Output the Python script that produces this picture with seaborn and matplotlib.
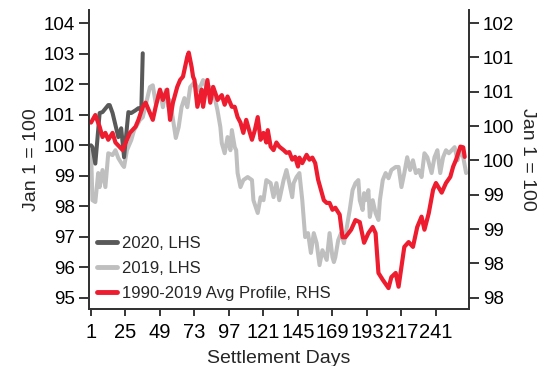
import numpy as np
import pandas as pd
import seaborn as sns
import matplotlib
matplotlib.use("Agg")
import matplotlib.pyplot as plt
from matplotlib.lines import Line2D

# 2020 (left axis)
days_2020 = [1, 2, 4, 7, 9, 13, 14, 16, 20, 22, 24, 27, 29, 32, 34, 36, 37]
vals_2020 = [100.0, 99.94, 99.4, 101.06, 101.09, 101.32, 101.32, 101.06, 100.27, 100.56,
             99.61, 101.09, 101.06, 101.15, 101.22, 101.15, 103.02]

# 2019 (left axis)
days_2019 = [1, 2, 4, 6, 7, 9, 11, 13, 16, 18, 20, 23, 24, 26, 29, 31, 33, 35, 37, 39,
             42, 44, 46, 49, 51, 53, 55, 56, 60, 62, 64, 66, 68, 70, 73, 76, 79, 82, 84, 85,
             87, 89, 91, 92, 94, 96, 98, 99, 101, 102, 103, 105, 107, 110, 113, 114, 117, 119, 121, 123,
             126, 128, 130, 132, 135, 137, 139, 141, 142, 144, 146, 148, 150, 152, 154, 156, 158, 160, 162, 165,
             167, 169, 170, 171, 173, 175, 177, 179, 181, 183, 185, 187, 188, 190, 191, 192, 194, 195, 197, 199,
             201, 202, 204, 206, 208, 210, 213, 215, 217, 219, 221, 223, 225, 227, 229, 231, 233, 235, 238, 240,
             242, 244, 246, 248, 250, 252, 254, 256, 258, 260, 262]
vals_2019 = [99.84, 98.20, 98.14, 99.09, 98.63, 99.19, 98.63, 99.74, 99.68, 99.84, 99.58, 99.35, 99.29, 99.84, 100.17, 100.50, 100.66, 100.83, 100.92, 101.32,
             101.91, 101.97, 101.38, 101.81, 101.25, 101.81, 101.25, 101.48, 100.24, 100.60, 101.25, 101.55, 101.25, 101.91, 102.07, 101.81, 102.14, 101.81, 101.91, 101.81,
             101.58, 101.15, 100.60, 100.07, 99.74, 100.27, 99.84, 100.50, 99.94, 99.84, 99.09, 98.63, 98.86, 98.96, 98.86, 98.20, 97.78, 98.30, 98.20, 98.86,
             98.76, 98.30, 98.76, 98.20, 98.86, 99.19, 98.76, 98.30, 98.76, 98.96, 99.09, 98.20, 96.99, 97.12, 96.47, 97.12, 96.79, 96.07, 96.56, 96.24,
             97.12, 96.33, 96.17, 96.33, 96.89, 97.12, 96.79, 97.32, 97.88, 98.53, 98.76, 98.86, 98.20, 97.88, 98.43, 98.20, 98.53, 97.65, 98.20, 97.78,
             97.55, 98.20, 98.86, 99.09, 98.92, 99.19, 99.29, 99.29, 98.63, 99.09, 99.61, 99.19, 99.51, 99.09, 99.19, 98.96, 99.74, 99.61, 99.09, 99.61,
             99.84, 99.09, 99.61, 99.84, 99.74, 99.84, 99.94, 99.51, 99.84, 99.61, 99.09]

# 1990-2019 average profile (right axis)
days_avg = [1, 4, 7, 9, 11, 13, 16, 18, 23, 26, 28, 32, 34, 37, 39, 42, 44, 46, 49, 51,
            54, 56, 58, 61, 63, 65, 68, 69, 71, 72, 73, 75, 78, 79, 82, 84, 86, 88, 89, 92,
            94, 96, 99, 101, 103, 105, 107, 109, 111, 113, 115, 117, 119, 121, 123, 124, 126, 128, 130, 132,
            135, 137, 139, 141, 143, 145, 146, 148, 151, 153, 155, 157, 159, 161, 163, 165, 167, 169, 171, 174,
            176, 178, 182, 185, 188, 191, 194, 197, 199, 201, 204, 208, 210, 213, 215, 217, 219, 222, 225, 228,
            231, 233, 236, 239, 241, 245, 248, 251, 253, 255, 258, 260, 261]
vals_avg = [100.55, 100.66, 100.49, 100.34, 100.40, 100.30, 100.40, 100.26, 100.15, 100.30, 100.40, 100.49, 100.59, 100.78, 100.84, 100.69, 100.59, 100.78, 101.03, 100.88,
            101.03, 100.59, 100.84, 101.07, 101.17, 101.22, 101.51, 101.57, 101.36, 101.22, 101.17, 100.78, 101.03, 100.78, 101.17, 100.84, 101.07, 100.95, 100.88, 100.95,
            100.81, 100.93, 100.78, 100.78, 100.63, 100.55, 100.40, 100.59, 100.44, 100.30, 100.44, 100.63, 100.30, 100.40, 100.26, 100.44, 100.20, 100.15, 100.26, 100.20,
            100.15, 100.11, 100.12, 100.01, 100.05, 99.91, 100.04, 99.96, 100.08, 100.01, 100.04, 99.96, 99.72, 99.57, 99.42, 99.38, 99.38, 99.28, 99.31, 99.21,
            98.88, 98.88, 98.99, 99.13, 99.10, 98.80, 98.94, 99.03, 98.94, 98.36, 98.26, 98.14, 98.30, 98.36, 98.16, 98.45, 98.74, 98.81, 98.74, 99.03,
            99.18, 98.99, 99.23, 99.57, 99.67, 99.53, 99.67, 99.76, 99.91, 100.01, 100.20, 100.19, 100.05]

x_ticks = [1, 25, 49, 73, 97, 121, 145, 169, 193, 217, 241]
left_ticks = [95, 96, 97, 98, 99, 100, 101, 102, 103, 104]
right_ticks = [98, 98.5, 99, 99.5, 100, 100.5, 101, 101.5, 102]
right_tick_labels = ["98", "98", "99", "99", "100", "100", "101", "101", "102"]
legend_labels = ["2020, LHS", "2019, LHS", "1990-2019 Avg Profile, RHS"]

sns.set_style("ticks")
plt.rcParams["font.family"] = ["Liberation Sans", "DejaVu Sans"]

df20 = pd.DataFrame({"day": days_2020, "value": vals_2020})
df19 = pd.DataFrame({"day": days_2019, "value": vals_2019})
dfavg = pd.DataFrame({"day": days_avg, "value": vals_avg})

fig = plt.figure(figsize=(5.41, 3.66), dpi=100)
ax = fig.add_axes([0.1645, 0.1557, 0.7024, 0.8170])
ax2 = ax.twinx()

c_dark = "#595959"
c_light = "#BFBFBF"
c_red = "#ED1C2E"

sns.lineplot(data=df19, x="day", y="value", ax=ax, color=c_light, lw=2.9,
             estimator=None, legend=False)
sns.lineplot(data=df20, x="day", y="value", ax=ax, color=c_dark, lw=2.9,
             estimator=None, legend=False)
sns.lineplot(data=dfavg, x="day", y="value", ax=ax2, color=c_red, lw=3.0,
             estimator=None, legend=False)

ax.set_xlim(-0.4, 264)
ax.set_ylim(94.63, 104.44)
ax2.set_ylim(97.835, 102.19)

ax.set_xticks(x_ticks)
ax.set_yticks(left_ticks)
ax2.set_yticks(right_ticks)
ax2.set_yticklabels(right_tick_labels)

for a in (ax, ax2):
    a.spines["top"].set_visible(False)
    a.tick_params(axis="y", direction="out", length=7, width=1.1, labelsize=13.5,
                  colors="black", pad=3)
    for s in a.spines.values():
        s.set_linewidth(1.3)
        s.set_color("#333333")
ax.tick_params(axis="x", direction="out", length=5, width=1.1, labelsize=14.5,
               colors="black", pad=5)

ax.set_xlabel("Settlement Days", fontsize=14, labelpad=6)
ax.set_ylabel("Jan 1 = 100", fontsize=14, labelpad=3)
ax2.set_ylabel("Jan 1 = 100", fontsize=14, rotation=270, labelpad=16)

handles = [Line2D([], [], color=c_dark, lw=3.5),
           Line2D([], [], color=c_light, lw=3.5),
           Line2D([], [], color=c_red, lw=3.5)]
ax2.legend(handles, legend_labels, loc="lower left", frameon=False, fontsize=12,
           handlelength=1.2, handletextpad=0.3, labelspacing=0.6,
           borderaxespad=0.1, bbox_to_anchor=(0.0, 0.0))

fig.savefig("out.png", dpi=100)
